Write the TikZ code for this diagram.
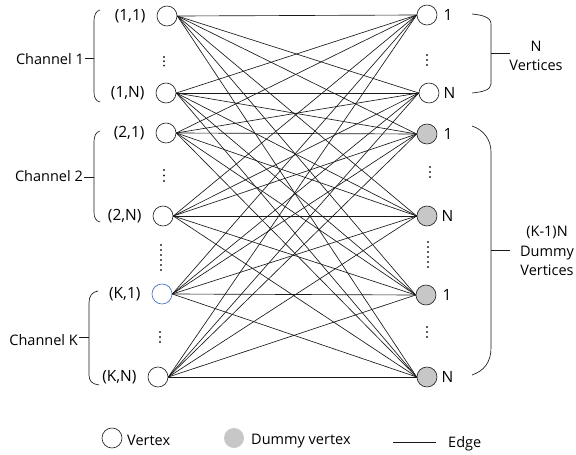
\documentclass[tikz,border=0pt]{standalone}
\usepackage{fontspec}
\setmainfont{Open Sans}
\usetikzlibrary{positioning}
\tikzset{
  vertex/.style={circle, draw=black!85, fill=white, line width=0.65pt, minimum size=20pt, inner sep=0pt},
  dummy/.style={vertex, fill=black!22},
  edge/.style={line width=0.65pt, black!90},
  brace/.style={line width=0.65pt, black!90},
  lab/.style={font=\fontsize{15.5}{18}\selectfont, inner sep=2pt},
  txt/.style={font=\fontsize{14.5}{19.5}\selectfont, align=center, inner sep=1pt},
}
% column of dots: x, y of first dot, count, spacing
\newcommand{\dotcol}[4]{%
  \foreach \i in {1,...,#3} \fill[black!85] ({#1},{#2+#4*(\i-1)}) circle [radius=1.1pt];}
\begin{document}
\begin{tikzpicture}[x=1pt, y=-1pt]
\useasboundingbox (0,0) rectangle (576,455);

% channel vertices
\node [vertex] (l1) at (167,16) {};
\node [vertex] (l2) at (166,93) {};
\node [vertex] (l3) at (166,133) {};
\node [vertex] (l4) at (163,216) {};
\node [vertex, draw={rgb,255:red,68;green,114;blue,196}] (l5) at (162,294) {};
\node [vertex] (l6) at (158,377) {};
\node [lab, left=9pt of l1] (t1) {(1,1)};
\node [lab, left=9pt of l2] (t2) {(1,N)};
\node [lab, left=9pt of l3] (t3) {(2,1)};
\node [lab, left=9pt of l4] (t4) {(2,N)};
\node [lab, left=9pt of l5] (t5) {(K,1)};
\node [lab, left=9pt of l6] (t6) {(K,N)};

% vertices and dummy vertices
\node [vertex] (r1) at (427,15) {};
\node [vertex] (r2) at (429,93) {};
\node [dummy] (r3) at (427,134) {};
\node [dummy] (r4) at (427,216) {};
\node [dummy] (r5) at (426,295) {};
\node [dummy] (r6) at (427,377) {};
\node [lab, right=4pt of r1] (s1) {1};
\node [lab, right=2pt of r2] (s2) {N};
\node [lab, right=4pt of r3] (s3) {1};
\node [lab, right=2pt of r4] (s4) {N};
\node [lab, right=4pt of r5] (s5) {1};
\node [lab, right=2pt of r6] (s6) {N};

% edges
\foreach \a in {1,...,6}
  \foreach \b in {1,...,6}
    \draw [edge] (l\a.east) -- (r\b.west);

% dots
\dotcol{164}{57}{3}{4.3}
\dotcol{164}{170}{3}{5.5}
\dotcol{161}{245}{6}{5}
\dotcol{160}{332}{3}{5}
\dotcol{427}{55}{3}{5}
\dotcol{430}{167}{3}{5}
\dotcol{428}{242}{6}{5}
\dotcol{427}{327}{3}{5}

% channel braces
\draw [brace] (100,10) .. controls (96,11) and (94,15) .. (94,21) -- (94,92)
  .. controls (94,98) and (96,101) .. (100,102);
\draw [brace] (94,58) -- (85,58);
\node [txt, anchor=east] (c1) at (85,59) {Channel 1};
\draw [brace] (100,131) .. controls (96,132) and (94,136) .. (94,142) -- (94,212)
  .. controls (94,218) and (96,221) .. (100,222);
\draw [brace] (94,177) -- (84,177);
\node [txt, anchor=east] (c2) at (84,176) {Channel 2};
\draw [brace] (98,291) .. controls (92,292) and (89,296) .. (89,303) -- (89,375)
  .. controls (89,381) and (92,384) .. (99,385);
\draw [brace] (89,337) -- (79,337);
\node [txt, anchor=east] (c3) at (79,340) {Channel K};

% group braces
\draw [brace] (472,14) .. controls (482,15) and (491,17) .. (491,24) -- (491,84)
  .. controls (491,90) and (482,92) .. (472,93);
\draw [brace] (491,53) -- (510,53);
\node [txt] (g1) at (536,56) {N\\Vertices};
\draw [brace] (472,126) .. controls (484,130) and (491,140) .. (491,152) -- (491,348)
  .. controls (491,362) and (484,371) .. (472,375);
\draw [brace] (491,250) -- (510,250);
\node [txt] (g2) at (547,251) {(K-1)N\\Dummy\\Vertices};

% legend
\node [vertex] (lv) at (112,438) {};
\node [txt, anchor=base west] (lvt) at (126,445) {Vertex};
\node [circle, fill=black!22, minimum size=20pt, inner sep=0pt] (ld) at (234,438) {};
\node [txt, anchor=base west] (ldt) at (250,444) {Dummy vertex};
\coordinate (le1) at (393,442);
\coordinate (le2) at (436,442);
\draw [edge] (le1) -- (le2);
\node [txt, anchor=base west] (let) at (447,447) {Edge};
\end{tikzpicture}
\end{document}
